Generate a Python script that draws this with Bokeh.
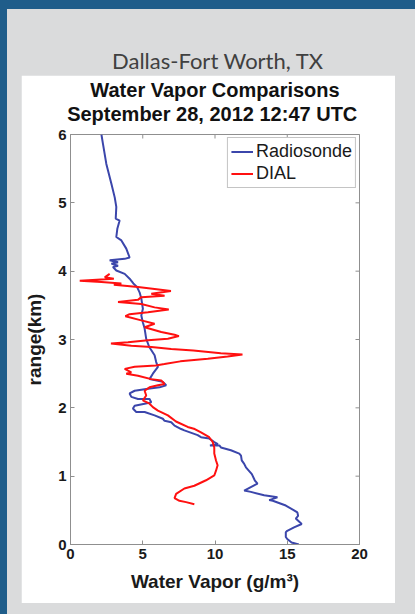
from bokeh.plotting import figure
from bokeh.layouts import column
from bokeh.models import Range1d, Title, Legend, LegendItem, FixedTicker
from bokeh.embed import file_html
from bokeh.resources import INLINE

# ---------------- data ----------------
title_station = "Dallas-Fort Worth, TX"
title_main = "Water Vapor Comparisons"
title_date = "September 28, 2012  12:47 UTC"
x_label = "Water Vapor (g/m³)"
y_label = "range(km)"
x_ticks = [0, 5, 10, 15, 20]
y_ticks = [0, 1, 2, 3, 4, 5, 6]
series_names = ["Radiosonde", "DIAL"]

radiosonde_range = [6.00, 5.86, 5.57, 5.28, 5.08, 4.94, 4.77, 4.74, 4.62, 4.50,
                    4.45, 4.33, 4.20, 4.18, 4.16, 4.13, 4.11, 4.08, 4.06, 4.01,
                    3.96, 3.89, 3.82, 3.77, 3.69, 3.60, 3.45, 3.35, 3.25, 3.16,
                    3.01, 2.89, 2.77, 2.67, 2.60, 2.50, 2.42, 2.38, 2.33, 2.30,
                    2.28, 2.25, 2.21, 2.16, 2.13, 2.13, 2.08, 2.06, 2.03, 1.99,
                    1.94, 1.94, 1.89, 1.84, 1.81, 1.79, 1.74, 1.69, 1.67, 1.60,
                    1.57, 1.55, 1.50, 1.47, 1.45, 1.45, 1.42, 1.38, 1.33, 1.30,
                    1.23, 1.18, 1.13, 1.03, 0.94, 0.89, 0.84, 0.79, 0.77, 0.72,
                    0.69, 0.65, 0.64, 0.57, 0.50, 0.47, 0.42, 0.38, 0.30, 0.25,
                    0.20, 0.18, 0.11, 0.08, 0.03, 0.00]
radiosonde_vapor = [2.14, 2.25, 2.48, 2.83, 3.06, 3.17, 3.13, 3.40, 3.24, 3.17,
                    3.52, 3.86, 4.09, 3.75, 2.71, 3.29, 2.83, 3.29, 2.94, 3.17,
                    3.75, 4.09, 4.35, 4.60, 4.78, 4.90, 5.01, 4.90, 5.01, 5.13,
                    5.24, 5.45, 5.82, 5.93, 6.05, 5.70, 5.47, 6.39, 6.62, 6.16,
                    5.36, 4.44, 4.09, 4.21, 4.67, 5.47, 5.59, 5.13, 4.44, 4.32,
                    4.55, 5.13, 5.82, 6.39, 6.51, 6.97, 7.20, 7.66, 7.88, 8.80,
                    9.03, 9.61, 9.95, 10.20, 9.65, 10.30, 10.41, 11.10, 11.68, 11.80,
                    11.85, 12.02, 12.14, 12.55, 12.75, 12.94, 12.48, 12.02, 12.48, 13.40,
                    14.32, 13.75, 14.00, 14.90, 15.47, 15.70, 15.75, 15.59, 16.00, 15.47,
                    15.00, 14.90, 14.90, 15.00, 15.30, 15.80]

dial_range = [3.96, 3.91, 3.89, 3.86, 3.84, 3.82, 3.80, 3.77, 3.74, 3.71,
              3.67, 3.64, 3.62, 3.58, 3.55, 3.52, 3.47, 3.44, 3.40, 3.37,
              3.34, 3.28, 3.23, 3.18, 3.11, 3.07, 3.05, 3.01, 2.99, 2.96,
              2.94, 2.91, 2.89, 2.86, 2.84, 2.80, 2.78, 2.75, 2.72, 2.68,
              2.64, 2.62, 2.60, 2.57, 2.52, 2.50, 2.47, 2.42, 2.40, 2.35,
              2.33, 2.30, 2.25, 2.18, 2.11, 2.06, 2.01, 1.96, 1.89, 1.80,
              1.72, 1.69, 1.64, 1.57, 1.50, 1.42, 1.33, 1.23, 1.16, 1.08,
              1.01, 0.94, 0.86, 0.82, 0.74, 0.68, 0.64, 0.62, 0.59]
dial_vapor = [2.71, 2.37, 3.00, 0.64, 2.14, 3.52, 3.00, 4.67, 5.82, 6.95,
              5.59, 6.51, 4.90, 4.67, 3.29, 4.90, 5.82, 6.80, 5.36, 4.09,
              3.80, 4.90, 5.82, 5.13, 6.28, 7.20, 7.50, 6.74, 5.36, 3.98,
              2.80, 4.21, 5.59, 6.97, 8.50, 10.40, 11.90, 10.87, 9.50, 7.60,
              6.50, 5.90, 4.44, 3.75, 4.21, 3.86, 4.67, 5.59, 6.28, 6.51,
              6.05, 5.47, 5.13, 5.24, 5.01, 5.47, 5.70, 6.05, 6.74, 7.30,
              8.11, 8.60, 9.03, 9.60, 9.84, 9.95, 9.95, 10.07, 10.18, 10.07,
              9.95, 9.38, 8.57, 7.88, 7.31, 7.20, 7.54, 8.00, 8.57]

# ---------------- styles ----------------
FONT = "Liberation Sans"
PANEL_GRAY = "#dadbdc"
PAGE_BLUE = "#1f5d8a"
AXIS_GRAY = "#8f8f8f"
BLUE = "#3b46ab"
RED = "#ff1010"

# ---- station heading on the grey slide panel ----
head = figure(width=380, height=66, x_range=Range1d(0, 1), y_range=Range1d(0, 1),
              output_backend="svg", toolbar_location=None,
              min_border_left=0, min_border_right=0, min_border_bottom=0,
              min_border_top=64, border_fill_color=PANEL_GRAY,
              background_fill_color=PANEL_GRAY, outline_line_color=None,
              title=Title(text=title_station, align="center", text_font="Lato",
                          text_font_size="22px", text_font_style="normal",
                          text_color="#404040", standoff=0))
head.axis.visible = False
head.grid.visible = False
head.margin = (0, 0, 0, 14)

# ---- chart on its white card ----
p = figure(width=374, height=528,
           x_range=Range1d(x_ticks[0], x_ticks[-1]),
           y_range=Range1d(y_ticks[0], y_ticks[-1]),
           output_backend="svg", toolbar_location=None,
           min_border_left=48, min_border_right=36,
           min_border_top=59, min_border_bottom=59,
           border_fill_color="white", background_fill_color="white",
           outline_line_color=AXIS_GRAY)
p.grid.visible = False
p.margin = (0, 0, 0, 14)

r1 = p.line(radiosonde_vapor, radiosonde_range, line_color=BLUE, line_width=2)
r2 = p.line(dial_vapor, dial_range, line_color=RED, line_width=2)

# inward ticks on the top and right frame edges (MATLAB box style)
p.scatter(x=x_ticks, y=[y_ticks[-1]] * len(x_ticks), marker="dash", angle=1.5708,
          size=8, line_color=AXIS_GRAY, line_width=1)
p.scatter(x=[x_ticks[-1]] * len(y_ticks), y=y_ticks, marker="dash",
          size=8, line_color=AXIS_GRAY, line_width=1)


def style_axis(ax):
    ax.major_tick_in = 4
    ax.major_tick_out = 0
    ax.minor_tick_line_color = None
    ax.axis_line_color = AXIS_GRAY
    ax.major_tick_line_color = AXIS_GRAY
    ax.major_label_text_font = FONT
    ax.major_label_text_font_style = "bold"
    ax.major_label_text_color = "#1a1a1a"
    ax.major_label_text_font_size = "15px"
    ax.axis_label_text_font = FONT
    ax.axis_label_text_font_style = "bold"
    ax.axis_label_text_color = "#1a1a1a"
    ax.axis_label_text_font_size = "19px"


xa = p.xaxis[0]
ya = p.yaxis[0]
xa.ticker = FixedTicker(ticks=x_ticks)
ya.ticker = FixedTicker(ticks=y_ticks)
style_axis(xa)
style_axis(ya)
xa.axis_label = x_label
ya.axis_label = y_label
xa.major_label_standoff = 4
ya.major_label_standoff = 4
xa.axis_label_standoff = 9
ya.axis_label_standoff = 10

legend = Legend(items=[LegendItem(label=series_names[0], renderers=[r1]),
                       LegendItem(label=series_names[1], renderers=[r2])],
                location="top_right", margin=3, padding=3, spacing=1,
                label_height=19, glyph_height=19, glyph_width=22,
                label_standoff=3, border_line_color="#8a8a8a",
                label_text_font=FONT, label_text_font_size="18px",
                label_text_color="#1a1a1a", background_fill_alpha=1.0)
p.add_layout(legend)

p.add_layout(Title(text=title_date, align="center", text_font=FONT,
                   text_font_size="20px", text_font_style="bold",
                   text_color="#111111", standoff=0,
                   padding=dict(left=0, right=0, top=0, bottom=10)), "above")
p.add_layout(Title(text=title_main, align="center", text_font=FONT,
                   text_font_size="20px", text_font_style="bold",
                   text_color="#111111", standoff=0), "above")

layout = column(head, p, spacing=0)

html = file_html(layout, INLINE)
css = ("<style>html{background:%s;overflow:hidden;}"
       "body{background:%s;margin:0;position:absolute;left:7px;top:9px;"
       "right:0;bottom:0;overflow:hidden;}</style>" % (PAGE_BLUE, PANEL_GRAY))
html = html.replace("</head>", css + "</head>", 1)
open("out.html", "w").write(html)
